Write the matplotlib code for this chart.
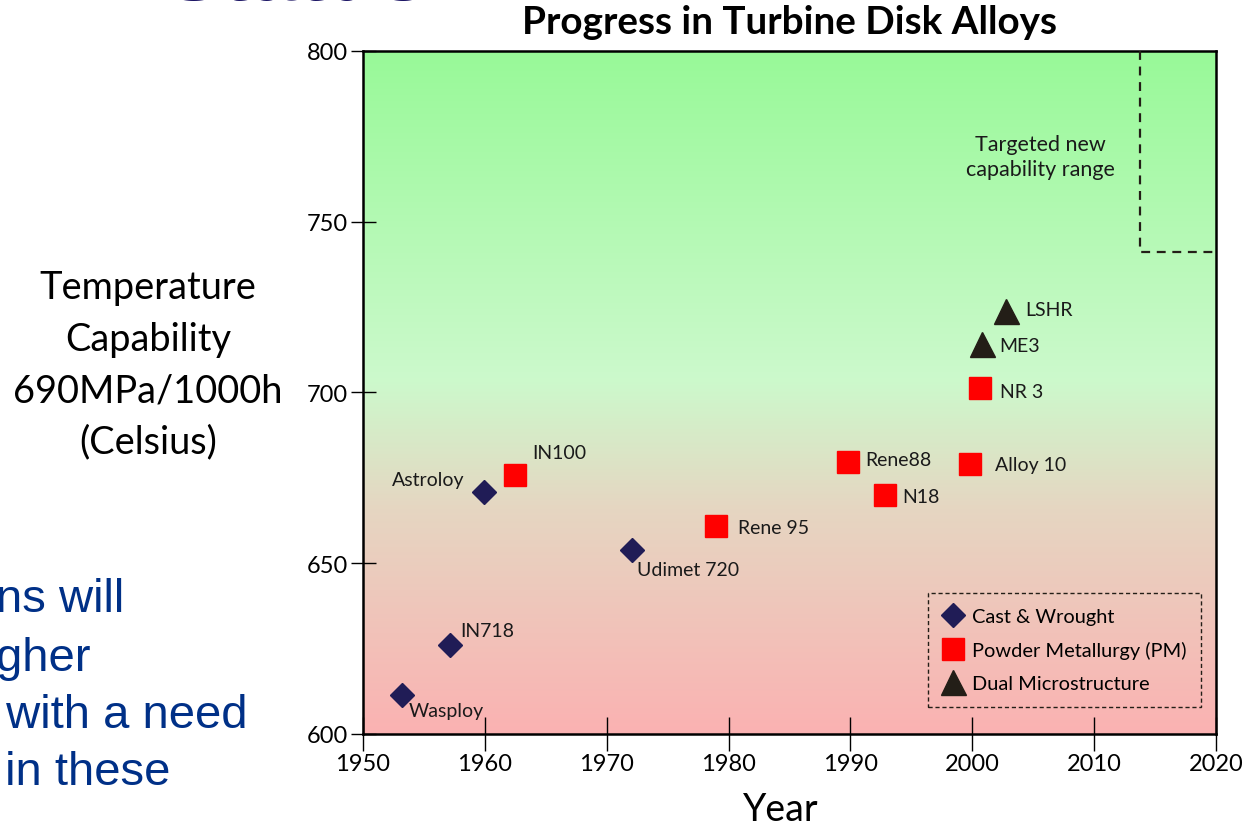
import numpy as np
import matplotlib
matplotlib.use('Agg')
import matplotlib.pyplot as plt
from matplotlib.colors import LinearSegmentedColormap
from matplotlib.lines import Line2D

plt.rcParams['font.family'] = ['Lato', 'DejaVu Sans']

# alloys: name, year, temperature capability (C)
cw_names = ['Wasploy', 'IN718', 'Astroloy', 'Udimet 720']
cw_year = [1953.2, 1957.1, 1959.9, 1972.1]
cw_temp = [611.4, 626.1, 670.9, 653.9]

pm_names = ['IN100', 'Rene 95', 'Rene88', 'N18', 'Alloy 10', 'NR 3']
pm_year = [1962.5, 1979.0, 1989.8, 1992.8, 1999.8, 2000.6]
pm_temp = [675.8, 660.9, 679.6, 670.0, 679.1, 701.3]

dm_names = ['ME3', 'LSHR']
dm_year = [2000.8, 2002.8]
dm_temp = [714.2, 723.9]

target_year = 2013.8
target_temp = 741

xticks = [1950, 1960, 1970, 1980, 1990, 2000, 2010, 2020]
yticks = [600, 650, 700, 750, 800]

# label offsets in pixels (dx, dy, ha)
offsets = {
    'Wasploy': (7, -15, 'left'), 'IN718': (11, 14, 'left'),
    'Astroloy': (-19, 12, 'right'), 'Udimet 720': (5, -20, 'left'),
    'IN100': (17, 23, 'left'), 'Rene 95': (22, -1, 'left'),
    'Rene88': (17, 3, 'left'), 'N18': (18, -2, 'left'),
    'Alloy 10': (25, -1, 'left'), 'NR 3': (20, -3, 'left'),
    'ME3': (17, -2, 'left'), 'LSHR': (19, 1, 'left'),
}

c_cw = '#201C56'
c_pm = '#FF0000'
c_dm = '#231E17'

fig = plt.figure(figsize=(12.5, 8.29), dpi=100)
ax = fig.add_axes([0.2904, 0.1134, 0.6824, 0.8239])

# background gradient
cmap = LinearSegmentedColormap.from_list('bg', [
    (0.0, (0.984, 0.698, 0.698)),
    (0.33, (0.90, 0.84, 0.76)),
    (0.52, (0.80, 0.98, 0.80)),
    (1.0, (0.596, 0.98, 0.596))])
grad = np.linspace(0, 1, 256).reshape(-1, 1)
ax.imshow(grad, cmap=cmap, origin='lower', aspect='auto',
          extent=[1950, 2020, 600, 800], zorder=0)

ax.plot(cw_year, cw_temp, 'D', color=c_cw, ms=12, ls='none', zorder=3)
ax.plot(pm_year, pm_temp, 's', color=c_pm, ms=15.5, ls='none', zorder=3)
ax.plot(dm_year, dm_temp, '^', color=c_dm, ms=18, ls='none', zorder=3)

for names, xs, ys in [(cw_names, cw_year, cw_temp),
                      (pm_names, pm_year, pm_temp),
                      (dm_names, dm_year, dm_temp)]:
    for n, x, y in zip(names, xs, ys):
        dx, dy, ha = offsets[n]
        ax.annotate(n, (x, y), xytext=(dx, dy), textcoords='offset pixels',
                    ha=ha, va='center', fontsize=14, color='#1a1a1a')

# targeted box
ax.plot([target_year, target_year, 2020], [800, target_temp, target_temp],
        ls=(0, (4, 3)), color='#231E17', lw=1.6, zorder=4, clip_on=False)
ax.text(2005.6, 769, 'Targeted new\ncapability range', ha='center',
        va='center', fontsize=15.5, color='#1a1a1a', linespacing=1.3)

ax.set_xlim(1950, 2020)
ax.set_ylim(600, 800)
ax.set_xticks(xticks)
ax.set_yticks(yticks)
ax.tick_params(axis='x', direction='inout', length=24, width=1, labelsize=17, pad=2)
ax.tick_params(axis='y', direction='inout', length=18, width=1, labelsize=17, pad=2)
for s in ax.spines.values():
    s.set_linewidth(1.8)

ax.set_title('Progress in Turbine Disk Alloys', fontsize=27.8, fontweight='bold', pad=13)

ax.set_xlabel('Year', fontsize=27, va='center')
ax.xaxis.set_label_coords(0.49, -0.11)
ax.set_ylabel('Temperature\nCapability\n690MPa/1000h\n(Celsius)', fontsize=27.4,
              rotation=0, ha='center', va='center', linespacing=1.53)
ax.yaxis.set_label_coords(-0.252, 0.541)

handles = [
    Line2D([], [], marker='D', color=c_cw, ls='none', ms=12),
    Line2D([], [], marker='s', color=c_pm, ls='none', ms=15.5),
    Line2D([], [], marker='^', color=c_dm, ls='none', ms=18),
]
leg = ax.legend(handles, ['Cast & Wrought', 'Powder Metallurgy (PM)', 'Dual Microstructure'],
                loc='upper left', bbox_to_anchor=(0.662, 0.2065), borderaxespad=0,
                fontsize=14.4, handlelength=1.0, handletextpad=0.45, labelspacing=0.8,
                fancybox=False, framealpha=1, borderpad=0.75)
leg.get_frame().set_linestyle((0, (3, 2)))
leg.get_frame().set_edgecolor('#231E17')
leg.get_frame().set_facecolor('none')
leg.get_frame().set_linewidth(1.0)

# slide text around the chart
fig.text(165 / 1250, 1.0, 'Status', fontsize=62, fontweight='bold',
         color='#1b1464', va='baseline', family='Liberation Sans')
blue = '#003087'
for txt, x, y in [('ns will', -4, 600), ('gher', -4, 659),
                  (' with a need', -7, 716), (' in these', -8, 773)]:
    fig.text(x / 1250, 1 - y / 829, txt, fontsize=34, color=blue,
             va='center', ha='left', family='Liberation Sans')

fig.savefig('out.png', dpi=100)
